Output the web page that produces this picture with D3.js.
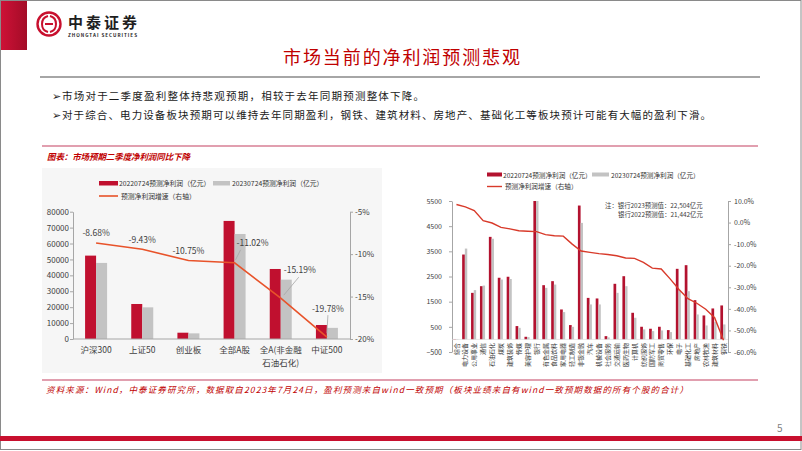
<!DOCTYPE html>
<html>
<head>
<meta charset="utf-8">
<script src="https://cdn.jsdelivr.net/npm/d3@7"></script>
<style>
  body { margin: 0; background: #fff; }
  svg { display: block; }
  text { font-family: "Noto Sans CJK SC", "Liberation Sans", sans-serif; }
</style>
</head>
<body>
<svg id="slide" width="802" height="451"></svg>
<script>
// ---- data: left chart (indices) ----
var leftCats = ['沪深300', '上证50', '创业板', '全部A股', '全A(非金融|石油石化)', '中证500'];
var left2022 = [52400, 22000, 3960, 74200, 44000, 8800];
var left2023 = [47800, 19900, 3550, 66000, 37300, 7000];
var leftGrowth = [-8.68, -9.43, -10.75, -11.02, -15.19, -19.78];
var leftTicksY = [0, 10000, 20000, 30000, 40000, 50000, 60000, 70000, 80000];
var leftTicksY2 = [-20, -15, -10, -5];

// ---- data: right chart (industries) ----
var rightCats = ['综合', '电力设备', '公用事业', '通信', '石油石化', '煤炭', '建筑装饰', '传媒', '美容护理', '银行',
  '有色金属', '食品饮料', '家用电器', '轻工制造', '非银金融', '汽车', '机械设备', '社会服务', '交通运输', '医药生物',
  '计算机', '纺织服饰', '国防军工', '商贸零售', '环保', '电子', '基础化工', '房地产', '农林牧渔', '建筑材料', '钢铁'];
var right2022 = [15, 3373, 1850, 2115, 4075, 2450, 2490, 530, 105, 21442,
  2155, 2315, 1190, 570, 5320, 1650, 1627, 130, 2210, 2512,
  1058, 503, 424, 503, 370, 2805, 2950, 1560, 952, 1230, 1350];
var right2023 = [16, 3610, 1960, 2140, 4000, 2380, 2400, 460, 90, 22504,
  2050, 2180, 1085, 500, 4630, 1390, 1390, 80, 1850, 2115,
  860, 397, 330, 357, 290, 1930, 1917, 992, 555, 690, 595];
var rightGrowth = [8.4, 7.3, 5.6, 0.9, -0.2, -2.2, -2.9, -3.8, -4.0, -4.2,
  -5.6, -6.1, -6.3, -10.0, -13.2, -13.8, -14.4, -14.8, -15.4, -16.4,
  -16.6, -18.5, -21.1, -21.5, -26.1, -31.0, -35.3, -37.4, -40.2, -44.1, -54.6];
var rightTicksY = [-500, 500, 1500, 2500, 3500, 4500, 5500];
var rightTicksY2 = [-60, -50, -40, -30, -20, -10, 0, 10];

var RED = '#c0102f', GRAY = '#c3c3c3', LINE_L = '#e8532a', LINE_R = '#d83a2a';
var svg = d3.select('#slide');

// ---- slide frame ----
var defs = svg.append('defs');
var grad = defs.append('linearGradient').attr('id', 'redblock').attr('x1', 0).attr('x2', 1);
grad.append('stop').attr('offset', 0).attr('stop-color', '#cf1237');
grad.append('stop').attr('offset', 1).attr('stop-color', '#a30c27');

svg.append('rect').attr('x', 0).attr('y', 0).attr('width', 27).attr('height', 50).attr('fill', 'url(#redblock)');
svg.append('rect').attr('x', 0.5).attr('y', 0.5).attr('width', 800.5).attr('height', 449)
  .attr('fill', 'none').attr('stroke', '#8a8a8a').attr('stroke-width', 1);

// logo
var logo = svg.append('g').attr('transform', 'translate(49,24)');
logo.append('circle').attr('r', 11.5).attr('fill', 'none').attr('stroke', '#c8102e').attr('stroke-width', 2.4);
logo.append('path').attr('d', 'M-1,-8 C-9,-6 -9,6 -1,8 M1,-8 C9,-6 9,6 1,8 M-4,0 L4,0')
  .attr('fill', 'none').attr('stroke', '#c8102e').attr('stroke-width', 2);
svg.append('text').attr('x', 68).attr('y', 28).attr('font-size', 15).attr('font-weight', 'bold')
  .attr('fill', '#1e1e1e').attr('textLength', 69).text('中泰证券');
svg.append('text').attr('x', 68).attr('y', 36.5).attr('font-size', 4.6).attr('font-weight', 'bold')
  .attr('fill', '#1e1e1e').attr('textLength', 69).attr('font-family', 'Liberation Sans').text('ZHONGTAI SECURITIES');

// title
svg.append('text').attr('x', 283).attr('y', 64).attr('font-size', 18).attr('fill', '#c00000')
  .attr('textLength', 237).text('市场当前的净利润预测悲观');
svg.append('line').attr('x1', 40).attr('x2', 760).attr('y1', 77).attr('y2', 77)
  .attr('stroke', '#a6a6a6').attr('stroke-width', 2);

// bullets
var bullets = [
  { t: '市场对于二季度盈利整体持悲观预期，相较于去年同期预测整体下降。', w: 362 },
  { t: '对于综合、电力设备板块预期可以维持去年同期盈利，钢铁、建筑材料、房地产、基础化工等板块预计可能有大幅的盈利下滑。', w: 649 }
];
bullets.forEach(function (b, i) {
  var y = 100 + i * 18.5;
  svg.append('text').attr('x', 52).attr('y', y).attr('font-size', 11).attr('fill', '#222')
    .attr('font-family', 'DejaVu Sans').text('➢');
  svg.append('text').attr('x', 62).attr('y', y).attr('font-size', 10.5).attr('fill', '#1a1a1a')
    .attr('textLength', b.w).text(b.t);
});

svg.append('line').attr('x1', 42).attr('x2', 758).attr('y1', 146).attr('y2', 146)
  .attr('stroke', '#d77f95').attr('stroke-width', 1.5);
svg.append('text').attr('x', 47).attr('y', 160).attr('font-size', 8.5).attr('font-weight', 'bold')
  .attr('font-style', 'italic').attr('fill', '#c00000').attr('textLength', 143).text('图表：市场预期二季度净利润同比下降');

svg.append('line').attr('x1', 42).attr('x2', 758).attr('y1', 380).attr('y2', 380)
  .attr('stroke', '#d77f95').attr('stroke-width', 1.5);
svg.append('text').attr('x', 46).attr('y', 393).attr('font-size', 8.5).attr('font-style', 'italic')
  .attr('fill', '#c00000').attr('textLength', 642)
  .text('资料来源：Wind，中泰证券研究所，数据取自2023年7月24日，盈利预测来自wind一致预期（板块业绩来自有wind一致预期数据的所有个股的合计）');

svg.append('text').attr('x', 777).attr('y', 432).attr('font-size', 10).attr('fill', '#7f7f7f')
  .attr('font-family', 'Liberation Sans').text('5');
svg.append('rect').attr('x', 0).attr('y', 436).attr('width', 802).attr('height', 5).attr('fill', '#c8102e');

// ================= left chart =================
svg.append('rect').attr('x', 42).attr('y', 168).attr('width', 340).attr('height', 205).attr('fill', '#f6f6f6');

var xL = d3.scaleBand().domain(leftCats).range([73, 350]);
var yL = d3.scaleLinear().domain([0, 80000]).range([339, 211.7]);
var yL2 = d3.scaleLinear().domain([-20, -5]).range([339, 211.7]);
var bwL = 11;
var cL = function (d) { return xL(d) + xL.bandwidth() / 2; };

var gL = svg.append('g');
gL.selectAll('rect.r22').data(leftCats).enter().append('rect')
  .attr('x', function (d) { return cL(d) - bwL; })
  .attr('y', function (d, i) { return yL(left2022[i]); })
  .attr('width', bwL).attr('height', function (d, i) { return yL(0) - yL(left2022[i]); })
  .attr('fill', RED);
gL.selectAll('rect.r23').data(leftCats).enter().append('rect')
  .attr('x', function (d) { return cL(d); })
  .attr('y', function (d, i) { return yL(left2023[i]); })
  .attr('width', bwL).attr('height', function (d, i) { return yL(0) - yL(left2023[i]); })
  .attr('fill', GRAY);

function styleAxis(g, fs) {
  g.selectAll('path.domain').attr('stroke', '#a6a6a6');
  g.selectAll('.tick line').attr('stroke', '#a6a6a6');
  g.selectAll('.tick text').attr('fill', '#404040').attr('font-size', fs).attr('font-family', 'Liberation Sans');
}

var axL = gL.append('g').attr('transform', 'translate(73,0)')
  .call(d3.axisLeft(yL).tickValues(leftTicksY).tickSize(3).tickPadding(1).tickSizeOuter(0)
    .tickFormat(d3.format('d')));
styleAxis(axL, 8);
var axL2 = gL.append('g').attr('transform', 'translate(350,0)')
  .call(d3.axisRight(yL2).tickValues(leftTicksY2).tickSize(3).tickPadding(2).tickSizeOuter(0)
    .tickFormat(function (d) { return d + '%'; }));
styleAxis(axL2, 8);
gL.append('line').attr('x1', 73).attr('x2', 350).attr('y1', yL(0)).attr('y2', yL(0)).attr('stroke', '#a6a6a6');

leftCats.forEach(function (c) {
  var parts = c.split('|');
  parts.forEach(function (p, k) {
    gL.append('text').attr('x', cL(c)).attr('y', 353 + k * 13).attr('text-anchor', 'middle')
      .attr('font-size', 8.5).attr('fill', '#404040').text(p);
  });
});

var lineL = d3.line().x(function (d, i) { return cL(leftCats[i]); }).y(function (d) { return yL2(d); });
gL.append('path').datum(leftGrowth).attr('d', lineL).attr('fill', 'none')
  .attr('stroke', LINE_L).attr('stroke-width', 1.6);

// label placement (layout only)
var lblPos = [[0, -7], [0, -6.5], [0, -6.5], [18, -16.5], [19, -25], [1, -25.5]];
var leaders = [null, null, null, [[6, -13], [1, -3]], [[18, -21], [3, -3]], [[1, -22], [0, -4]]];
leftGrowth.forEach(function (g, i) {
  var px = cL(leftCats[i]), py = yL2(g);
  if (leaders[i]) {
    gL.append('line').attr('x1', px + leaders[i][0][0]).attr('y1', py + leaders[i][0][1])
      .attr('x2', px + leaders[i][1][0]).attr('y2', py + leaders[i][1][1])
      .attr('stroke', '#a6a6a6').attr('stroke-width', 0.8);
  }
  gL.append('text').attr('x', px + lblPos[i][0]).attr('y', py + lblPos[i][1]).attr('text-anchor', 'middle')
    .attr('font-size', 8.5).attr('fill', '#404040').attr('font-family', 'Liberation Sans')
    .text(g.toFixed(2) + '%');
});

// legend left
var legL = gL.append('g');
legL.append('rect').attr('x', 99).attr('y', 181).attr('width', 19).attr('height', 4.5).attr('fill', RED);
legL.append('text').attr('x', 119).attr('y', 186).attr('font-size', 6.8).attr('fill', '#333').text('20220724预测净利润（亿元）');
legL.append('rect').attr('x', 213).attr('y', 181).attr('width', 17).attr('height', 4.5).attr('fill', GRAY);
legL.append('text').attr('x', 232).attr('y', 186).attr('font-size', 6.8).attr('fill', '#333').text('20230724预测净利润（亿元）');
legL.append('line').attr('x1', 99).attr('x2', 118).attr('y1', 196).attr('y2', 196).attr('stroke', LINE_L).attr('stroke-width', 1.6);
legL.append('text').attr('x', 121).attr('y', 198.5).attr('font-size', 6.8).attr('fill', '#333').text('预测净利润增速（右轴）');

// ================= right chart =================
var xR = d3.scaleBand().domain(rightCats).range([452, 728]);
var yR = d3.scaleLinear().domain([-500, 5500]).range([352, 201]).clamp(true);
var yR2 = d3.scaleLinear().domain([-60, 10]).range([352, 201]);
var cR = function (d) { return xR(d) + xR.bandwidth() / 2; };

var gR = svg.append('g');
gR.selectAll('rect.r22').data(rightCats).enter().append('rect')
  .attr('x', function (d) { return cR(d) - 3.2; })
  .attr('y', function (d, i) { return Math.min(yR(right2022[i]), yR(0)); })
  .attr('width', 2.7)
  .attr('height', function (d, i) { return Math.abs(yR(0) - yR(right2022[i])); })
  .attr('fill', '#b3122f');
gR.selectAll('rect.r23').data(rightCats).enter().append('rect')
  .attr('x', function (d) { return cR(d) - 0.5; })
  .attr('y', function (d, i) { return Math.min(yR(right2023[i]), yR(0)); })
  .attr('width', 2.4)
  .attr('height', function (d, i) { return Math.abs(yR(0) - yR(right2023[i])); })
  .attr('fill', GRAY);

var axR = gR.append('g').attr('transform', 'translate(452,0)')
  .call(d3.axisLeft(yR).tickValues(rightTicksY).tickSize(3).tickPadding(7).tickSizeOuter(0)
    .tickFormat(d3.format('d')));
styleAxis(axR, 7);
var axR2 = gR.append('g').attr('transform', 'translate(728,0)')
  .call(d3.axisRight(yR2).tickValues(rightTicksY2).tickSize(3).tickPadding(3).tickSizeOuter(0)
    .tickFormat(function (d) { return d.toFixed(1) + '%'; }));
styleAxis(axR2, 7);
gR.append('line').attr('x1', 452).attr('x2', 728).attr('y1', yR(0)).attr('y2', yR(0)).attr('stroke', '#d9d9d9').attr('stroke-width', 0.6);

gR.selectAll('text.cat').data(rightCats).enter().append('text')
  .attr('transform', function (d) { return 'translate(' + cR(d) + ',343) rotate(-90)'; })
  .attr('text-anchor', 'end').attr('dy', '0.35em')
  .attr('font-size', 6).attr('fill', '#333').text(function (d) { return d; });

var lineR = d3.line().x(function (d, i) { return cR(rightCats[i]); }).y(function (d) { return yR2(d); });
gR.append('path').datum(rightGrowth).attr('d', lineR).attr('fill', 'none')
  .attr('stroke', LINE_R).attr('stroke-width', 1.4);

// note
gR.append('text').attr('x', 605).attr('y', 207.5).attr('font-size', 6.4).attr('fill', '#404040').text('注：银行2023预测值：22,504亿元');
gR.append('text').attr('x', 618).attr('y', 217).attr('font-size', 6.4).attr('fill', '#404040').text('银行2022预测值：21,442亿元');

// legend right
var legR = gR.append('g');
legR.append('rect').attr('x', 487).attr('y', 172.5).attr('width', 15).attr('height', 4).attr('fill', '#b3122f');
legR.append('text').attr('x', 503).attr('y', 177.5).attr('font-size', 6.6).attr('fill', '#333').text('20220724预测净利润（亿元）');
legR.append('rect').attr('x', 592).attr('y', 172.5).attr('width', 17).attr('height', 4).attr('fill', GRAY);
legR.append('text').attr('x', 611).attr('y', 177.5).attr('font-size', 6.6).attr('fill', '#333').text('20230724预测净利润（亿元）');
legR.append('line').attr('x1', 487).attr('x2', 502).attr('y1', 186.5).attr('y2', 186.5).attr('stroke', LINE_R).attr('stroke-width', 1.4);
legR.append('text').attr('x', 505).attr('y', 189).attr('font-size', 6.6).attr('fill', '#333').text('预测净利润增速（右轴）');
</script>
</body>
</html>
